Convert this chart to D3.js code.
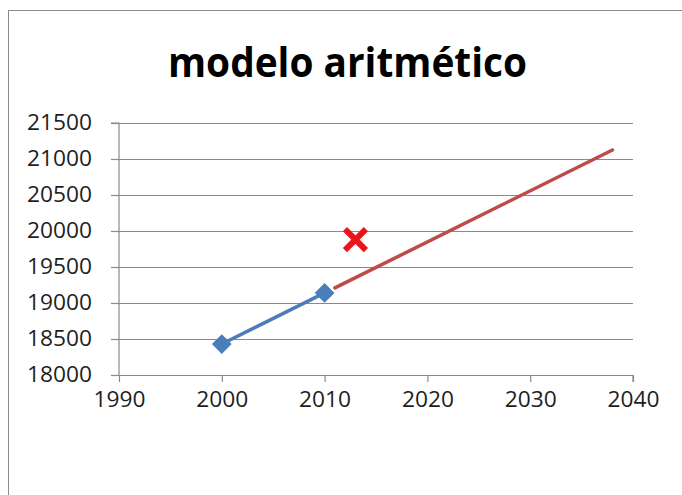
<!DOCTYPE html>
<html>
<head>
<meta charset="utf-8">
<script src="https://cdn.jsdelivr.net/npm/d3@7"></script>
<style>
  html, body { margin: 0; padding: 0; background: #fff; }
  svg { display: block; }
</style>
</head>
<body>
<script>
const chartTitle = "modelo aritmético";
const xTicks = [1990, 2000, 2010, 2020, 2030, 2040];
const yTicks = [18000, 18500, 19000, 19500, 20000, 20500, 21000, 21500];
const censusYears = [2000, 2010];
const censusValues = [18430, 19140];
const projYears = [2011, 2038];
const projValues = [19210, 21125];
const checkYears = [2013];
const checkValues = [19880];

const W = 682, H = 495;
const svg = d3.select("body").append("svg").attr("width", W).attr("height", H);
const font = "'Open Sans', 'Liberation Sans', sans-serif";

// frame
svg.append("rect").attr("x", 8.5).attr("y", 10.5).attr("width", 720).attr("height", 520)
  .attr("fill", "#fff").attr("stroke", "#8c8c8c").attr("stroke-width", 1);

const x = d3.scaleLinear().domain([1990, 2040]).range([119, 633]);
const y = d3.scaleLinear().domain([18000, 21500]).range([375, 123]);

// gridlines
svg.append("g").selectAll("line").data(yTicks.filter(v => v !== 18000)).join("line")
  .attr("x1", x(1990)).attr("x2", x(2040))
  .attr("y1", d => Math.round(y(d)) + 0.5).attr("y2", d => Math.round(y(d)) + 0.5)
  .attr("stroke", "#8a8a8a").attr("stroke-width", 1.2);

// axes
const yAxis = svg.append("g").attr("transform", `translate(${x(1990)},0)`)
  .call(d3.axisLeft(y).tickValues(yTicks).tickSize(8).tickPadding(19).tickFormat(d3.format("d")));
const xAxis = svg.append("g").attr("transform", `translate(0,${y(18000)})`)
  .call(d3.axisBottom(x).tickValues(xTicks).tickSize(7).tickPadding(8).tickFormat(d3.format("d")));

[yAxis, xAxis].forEach(g => {
  g.selectAll("path.domain").attr("stroke", "#8a8a8a").attr("stroke-width", 1.2);
  g.selectAll(".tick line").attr("stroke", "#8a8a8a").attr("stroke-width", 1.2);
  g.selectAll(".tick text").attr("fill", "#1e1e1e").attr("font-family", font).attr("font-size", 21);
});
xAxis.select("path.domain").attr("d", `M${x(1990) - 6},0.5H${x(2040)}V7`);
yAxis.select("path.domain").attr("d", `M-8,${y(21500)}H0V${y(18000)}`);
yAxis.selectAll(".tick text").attr("textLength", 65).attr("lengthAdjust", "spacingAndGlyphs");
xAxis.selectAll(".tick text").attr("textLength", 52).attr("lengthAdjust", "spacingAndGlyphs")
  .attr("dy", "0.82em");

// projection line (red)
const line = d3.line().x(d => x(d[0])).y(d => y(d[1]));
svg.append("path").datum(d3.zip(projYears, projValues)).attr("d", line)
  .attr("fill", "none").attr("stroke", "#be4b48").attr("stroke-width", 3.5).attr("stroke-linecap", "round");

// census line (blue)
const census = d3.zip(censusYears, censusValues);
svg.append("path").datum(census).attr("d", line)
  .attr("fill", "none").attr("stroke", "#4a7ebb").attr("stroke-width", 3.5);
svg.append("g").selectAll("path").data(census).join("path")
  .attr("transform", d => `translate(${x(d[0])},${y(d[1])})`)
  .attr("d", d3.symbol(d3.symbolDiamond2, 250)())
  .attr("fill", "#4a7ebb");

// check point (red X)
svg.append("g").selectAll("path").data(d3.zip(checkYears, checkValues)).join("path")
  .attr("transform", d => `translate(${x(d[0])},${y(d[1])})`)
  .attr("d", "M-10.5,-10.5L10.5,10.5M-10.5,10.5L10.5,-10.5")
  .attr("stroke", "#e8141c").attr("stroke-width", 6).attr("fill", "none");

// title
svg.append("text").attr("x", 347.5).attr("y", 77).attr("text-anchor", "middle")
  .attr("font-family", font).attr("font-weight", "bold").attr("font-size", 42)
  .attr("textLength", 359).attr("lengthAdjust", "spacingAndGlyphs")
  .attr("fill", "#000").text(chartTitle);
</script>
</body>
</html>
